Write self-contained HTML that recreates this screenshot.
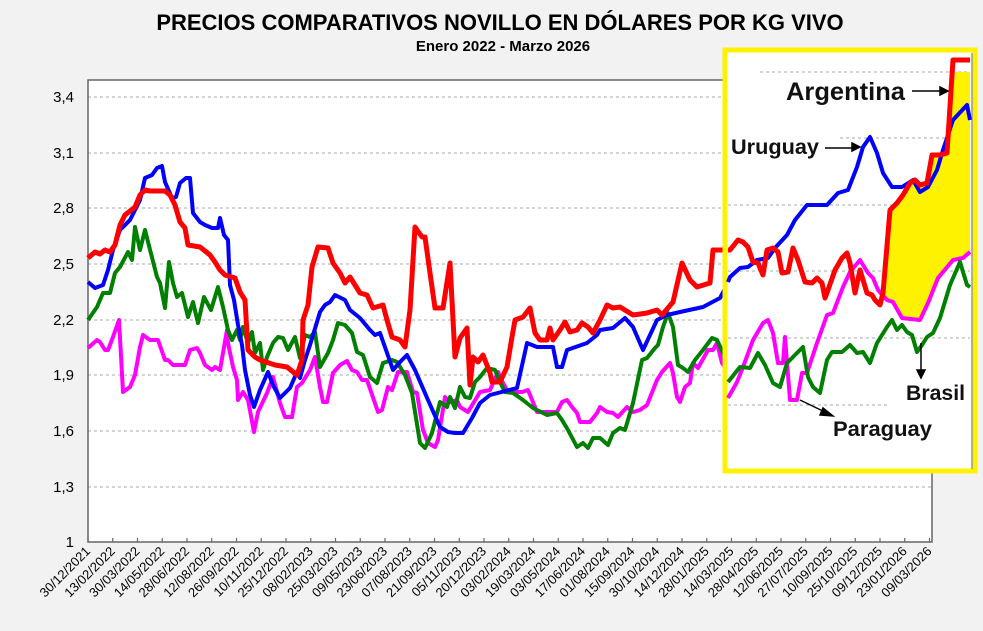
<!DOCTYPE html>
<html><head><meta charset="utf-8"><style>
html,body{margin:0;padding:0;background:#f2f2f2}
svg{display:block;font-family:"Liberation Sans",Arial,sans-serif}
</style></head><body>
<svg width="983" height="631" viewBox="0 0 983 631" xmlns="http://www.w3.org/2000/svg">
<rect width="983" height="631" fill="#f2f2f2"/>
<text x="500" y="30" text-anchor="middle" font-size="22" font-weight="bold">PRECIOS COMPARATIVOS NOVILLO EN DÓLARES POR KG  VIVO</text>
<text x="503" y="51" text-anchor="middle" font-size="15" font-weight="bold">Enero  2022 -  Marzo  2026</text>
<rect x="88" y="80" width="844" height="462" fill="#fff"/>
<g stroke="#aaa" stroke-dasharray="3,3" stroke-width="1">
<line x1="88" x2="932" y1="97" y2="97"/><line x1="88" x2="932" y1="153" y2="153"/><line x1="88" x2="932" y1="208" y2="208"/><line x1="88" x2="932" y1="264" y2="264"/><line x1="88" x2="932" y1="320" y2="320"/><line x1="88" x2="932" y1="375" y2="375"/><line x1="88" x2="932" y1="431" y2="431"/><line x1="88" x2="932" y1="487" y2="487"/>
</g>
<path d="M88 80 H932 V542 H88 Z" fill="none" stroke="#666" stroke-width="1.5"/>
<g font-size="15" text-anchor="end">
<text x="74" y="102">3,4</text><text x="74" y="158">3,1</text><text x="74" y="213">2,8</text><text x="74" y="269">2,5</text><text x="74" y="325">2,2</text><text x="74" y="380">1,9</text><text x="74" y="436">1,6</text><text x="74" y="492">1,3</text><text x="74" y="547">1</text>
</g>
<g id="xl" font-size="13"></g>
<g fill="none" stroke-width="4" stroke-linejoin="round">
<polyline stroke="#ff00ff" points="88,348 97,340 100,342 105,350 108,350 113,337 119,320 123,392 130,387 135,375 140,347 143,335 150,340 158,340 165,360 168,360 173,365 185,365 190,350 197,348 200,353 205,365 212,370 215,367 220,370 227,330 228,343 233,367 237,380 238,400 243,392 248,400 254,432 258,412 267,393 273,377 280,403 285,417 292,417 297,387 302,383 310,370 315,357 320,387 323,402 327,402 333,373 340,365 347,361 352,370 357,372 362,380 367,380 378,412 382,410 388,387 392,390 398,372 407,372 413,392 417,393 423,430 428,443 435,447 438,440 445,397 450,402 457,400 460,407 468,412 480,392 490,390 498,372 503,383 508,392 522,392 528,390 537,412 557,412 562,402 567,400 572,407 577,413 580,422 590,422 597,413 600,407 607,412 613,413 618,417 627,407 633,412 640,410 647,405 657,380 662,372 670,363 673,373 677,397 680,402 685,387 690,383 693,363 698,368 708,350 713,350 717,343 722,363 725,367"/>
<polyline stroke="#008000" points="88,320 97,307 103,293 110,293 115,273 120,267 128,252 132,260 135,227 140,250 145,230 157,277 160,283 165,308 169,262 173,283 177,297 182,293 188,317 193,302 198,323 204,297 211,310 218,287 223,307 228,330 232,340 237,330 240,340 243,327 248,343 252,332 255,353 260,343 263,370 267,357 273,343 278,337 283,338 288,350 295,337 300,358 305,335 310,337 315,332 320,367 328,353 333,340 338,323 345,325 352,333 357,352 363,355 370,377 377,383 383,363 392,360 397,362 405,375 412,393 420,443 425,448 432,433 440,402 447,407 450,397 455,408 460,387 465,397 470,398 475,382 480,377 487,368 495,370 500,382 505,392 513,393 523,400 533,408 547,415 557,413 562,420 568,430 577,447 583,443 588,448 593,438 600,438 608,445 613,433 620,428 625,430 633,403 642,360 647,358 655,348 658,345 663,327 668,313 673,327 678,365 683,368 688,372 695,360 703,350 712,338 717,340 725,357"/>
<polyline stroke="#0000ff" points="88,282 95,288 103,285 108,270 113,250 120,230 130,220 140,200 145,178 152,175 157,168 162,166 165,182 172,198 176,197 180,183 186,178 190,178 193,213 200,222 205,225 212,228 218,228 220,218 224,235 228,240 230,285 234,300 238,325 242,345 245,370 250,395 254,407 260,390 268,372 273,385 280,398 290,388 297,372 300,378 305,360 310,345 320,312 325,305 330,302 335,295 345,300 350,310 360,318 370,330 375,335 380,333 386,350 393,370 400,362 407,355 415,370 428,400 440,427 448,432 455,433 463,433 472,418 480,403 490,395 517,388 527,343 537,347 553,347 557,367 562,367 567,350 587,343 597,335 600,330 613,328 625,318 633,327 643,350 657,320 667,315 680,312 703,307 720,298 727,285"/>
<polyline stroke="#ff0000" stroke-width="5" points="88,258 95,252 100,254 105,250 110,252 115,245 120,225 125,215 135,207 140,195 145,190 150,191 165,191 170,195 175,205 180,222 185,228 188,245 200,247 210,255 215,262 220,270 225,275 235,278 240,292 245,300 248,350 255,357 260,360 275,365 287,367 297,375 302,360 303,320 308,305 312,267 318,247 328,248 333,263 340,273 345,283 350,277 360,293 367,295 373,308 383,305 387,320 392,337 400,340 405,347 410,310 415,227 422,237 425,237 430,273 435,308 443,308 450,263 455,357 460,338 467,328 470,385 473,357 478,362 483,355 490,373 492,382 500,382 507,367 512,337 515,320 523,317 530,308 535,333 540,340 547,340 550,328 553,340 560,330 565,322 570,332 577,330 582,323 588,327 593,333 600,320 607,305 613,308 620,307 633,315 647,313 657,310 662,315 673,302 682,263 690,280 697,287 710,283 713,250 725,250"/>
</g>
<!-- inset -->
<rect x="725" y="50" width="250" height="421" fill="#fff" stroke="#fff200" stroke-width="5"/>
<line x1="972" y1="53" x2="972" y2="469" stroke="#999" stroke-width="1.5"/>
<g stroke="#aaa" stroke-dasharray="3,3" stroke-width="1">
<line x1="760" x2="970" y1="72" y2="72"/><line x1="840" x2="970" y1="138" y2="138"/><line x1="728" x2="970" y1="205" y2="205"/><line x1="728" x2="970" y1="271" y2="271"/><line x1="728" x2="970" y1="338" y2="338"/><line x1="728" x2="890" y1="405" y2="405"/>
</g>
<polygon fill="#fff200" points="885,300 890,212 897,205 903,197 910,185 915,182 920,187 927,185 932,157 947,155 955,72 970,72 970,254 963,260 953,262 938,280 928,305 920,322 902,320 893,304 887,302"/>
<g fill="none" stroke-width="4" stroke-linejoin="round">
<polyline stroke="#ff00ff" points="728,398 737,382 743,367 753,340 763,323 768,320 773,333 778,363 783,363 785,337 790,400 797,400 802,373 807,373 817,343 827,315 833,313 843,287 850,272 860,260 868,273 873,278 878,290 887,300 893,302 902,318 920,320 928,303 938,278 953,260 963,258 970,252"/>
<polyline stroke="#008000" points="728,382 740,367 750,368 758,353 765,365 773,383 780,387 787,363 793,357 803,347 808,377 813,387 820,393 827,360 832,352 842,352 850,345 857,353 863,352 870,363 877,343 887,327 892,320 897,330 902,325 907,332 912,335 917,352 922,345 927,337 933,333 940,318 950,285 960,262 967,285 970,287"/>
<polyline stroke="#0000ff" points="728,282 730,277 740,268 748,267 757,260 768,258 775,248 787,235 795,220 807,205 827,205 838,193 848,190 857,167 863,147 870,137 877,153 883,173 892,187 902,187 913,180 920,192 928,187 937,170 943,150 953,120 967,105 970,120"/>
<polyline stroke="#ff0000" stroke-width="5" points="728,250 730,250 738,240 743,242 748,247 753,262 758,263 763,275 767,250 773,248 778,252 782,273 788,272 793,248 798,260 805,282 812,283 817,278 822,283 825,298 828,290 835,270 842,258 847,253 850,263 855,293 860,270 867,293 872,295 875,300 880,305 883,293 890,210 897,203 903,195 910,183 915,180 920,185 927,183 932,155 940,155 947,153 953,60 970,60"/>
</g>
<g font-weight="bold" fill="#111">
<text x="786" y="100" font-size="25" textLength="119" lengthAdjust="spacingAndGlyphs">Argentina</text>
<text x="731" y="154" font-size="21" textLength="88" lengthAdjust="spacingAndGlyphs">Uruguay</text>
<text x="906" y="400" font-size="21" textLength="59" lengthAdjust="spacingAndGlyphs">Brasil</text>
<text x="833" y="436" font-size="21" textLength="99" lengthAdjust="spacingAndGlyphs">Paraguay</text>
</g>
<g stroke="#000" stroke-width="1.5">
<line x1="912" y1="91" x2="942" y2="91"/><polygon points="948,91 940,87 940,95" fill="#000"/>
<line x1="825" y1="148" x2="854" y2="148"/><polygon points="860,147 852,143 852,151" fill="#000"/>
<line x1="921" y1="343" x2="921" y2="372"/><polygon points="921,378 917,370 925,370" fill="#000"/>
<line x1="800" y1="400" x2="827" y2="413"/><polygon points="833,416 823,408 820,415" fill="#000"/>
</g>
<g stroke="#666" stroke-width="1.2" id="ticks"></g>
<script>
var labs="30/12/2021 13/02/2022 30/03/2022 14/05/2022 28/06/2022 12/08/2022 26/09/2022 10/11/2022 25/12/2022 08/02/2023 25/03/2023 09/05/2023 23/06/2023 07/08/2023 21/09/2023 05/11/2023 20/12/2023 03/02/2024 19/03/2024 03/05/2024 17/06/2024 01/08/2024 15/09/2024 30/10/2024 14/12/2024 28/01/2025 14/03/2025 28/04/2025 12/06/2025 27/07/2025 10/09/2025 25/10/2025 09/12/2025 23/01/2026 09/03/2026".split(" ");
var ns="http://www.w3.org/2000/svg",g=document.getElementById("xl"),t=document.getElementById("ticks");
labs.forEach(function(l,i){var x=88+i*24.75;
var tx=document.createElementNS(ns,"text");tx.setAttribute("x",x+3);tx.setAttribute("y",552);tx.setAttribute("text-anchor","end");tx.setAttribute("transform","rotate(-45 "+(x+3)+" 552)");tx.textContent=l;g.appendChild(tx);
var ln=document.createElementNS(ns,"line");ln.setAttribute("x1",x);ln.setAttribute("x2",x);ln.setAttribute("y1",538);ln.setAttribute("y2",542);t.appendChild(ln);});
</script>
</svg>
</body></html>
